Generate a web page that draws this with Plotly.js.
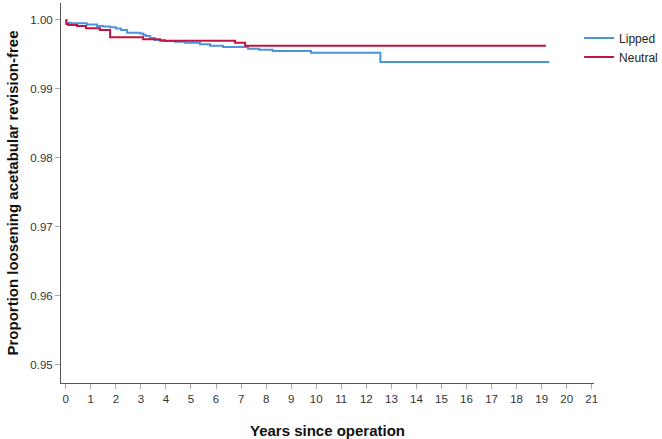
<!DOCTYPE html>
<html>
<head>
<meta charset="utf-8">
<script src="https://cdn.plot.ly/plotly-3.0.1.min.js"></script>
<style>html,body{margin:0;padding:0;background:#fff;}#chart{width:662px;height:439px;}</style>
</head>
<body>
<div id="chart"></div>
<script>
// Kaplan-Meier step data
var lippedYears = [0, 0.03, 0.2, 0.84, 1.25, 1.5, 1.77, 2.0, 2.2, 2.45, 2.97, 3.1, 3.2, 3.37, 3.55, 3.96, 4.36, 4.76, 5.36, 5.76, 6.28, 7.28, 7.72, 8.26, 9.79, 12.56, 19.31];
var lippedSurv  = [1.0, 0.99961, 0.99952, 0.99935, 0.99913, 0.99906, 0.99894, 0.99877, 0.99855, 0.99816, 0.99804, 0.99783, 0.99768, 0.99739, 0.99710, 0.99696, 0.99686, 0.99671, 0.99648, 0.99628, 0.99609, 0.99584, 0.99570, 0.99551, 0.99526, 0.99391, 0.99391];
var neutralYears = [0, 0.02, 0.1, 0.45, 0.81, 1.37, 1.77, 3.09, 3.77, 6.76, 7.16, 19.17];
var neutralSurv  = [1.0, 0.99942, 0.99928, 0.99913, 0.9988, 0.99855, 0.9975, 0.9972, 0.9970, 0.99671, 0.99628, 0.99628];
var seriesNames = ['Lipped', 'Neutral'];
var xTicks = [0,1,2,3,4,5,6,7,8,9,10,11,12,13,14,15,16,17,18,19,20,21];
var yTicks = [0.95, 0.96, 0.97, 0.98, 0.99, 1.00];
var yTickText = ['0.95', '0.96', '0.97', '0.98', '0.99', '1.00'];

var traces = [
  {x: lippedYears, y: lippedSurv, name: seriesNames[0], mode: 'lines',
   line: {shape: 'hv', color: '#4C94DC', width: 2}},
  {x: neutralYears, y: neutralSurv, name: seriesNames[1], mode: 'lines',
   line: {shape: 'hv', color: '#C2143F', width: 2}}
];

var layout = {
  width: 662, height: 439,
  margin: {l: 61, r: 68, t: 3, b: 56, pad: 0, autoexpand: false},
  paper_bgcolor: '#fff', plot_bgcolor: '#fff',
  font: {family: 'Liberation Sans, Arial, sans-serif', size: 11, color: '#333'},
  showlegend: true,
  legend: {x: 0.972, y: 0.946, xanchor: 'left', yanchor: 'top', font: {size: 12, color: '#222'},
           bgcolor: 'rgba(0,0,0,0)', tracegroupgap: 0, itemwidth: 30},
  xaxis: {
    range: [-0.19, 21.09], tickvals: xTicks, ticks: 'outside', ticklen: 5, tickcolor: '#aaa',
    showline: true, linecolor: '#555', linewidth: 1, showgrid: false, zeroline: false,
    tickfont: {size: 11.5, color: '#333'},
    title: {text: 'Years since operation', font: {size: 15, color: '#111', family: 'Liberation Sans, Arial, sans-serif', weight: 'bold'}, standoff: 22}
  },
  yaxis: {
    range: [0.94739, 1.00246], tickvals: yTicks, ticktext: yTickText, ticks: 'outside', ticklen: 5, tickcolor: '#aaa',
    showline: true, linecolor: '#555', linewidth: 1, showgrid: false, zeroline: false,
    tickfont: {size: 11.5, color: '#333'},
    title: {text: 'Proportion loosening acetabular revision-free', font: {size: 15, color: '#111', family: 'Liberation Sans, Arial, sans-serif', weight: 'bold'}, standoff: 8}
  }
};

Plotly.newPlot('chart', traces, layout, {displayModeBar: false, staticPlot: true});
</script>
</body>
</html>
